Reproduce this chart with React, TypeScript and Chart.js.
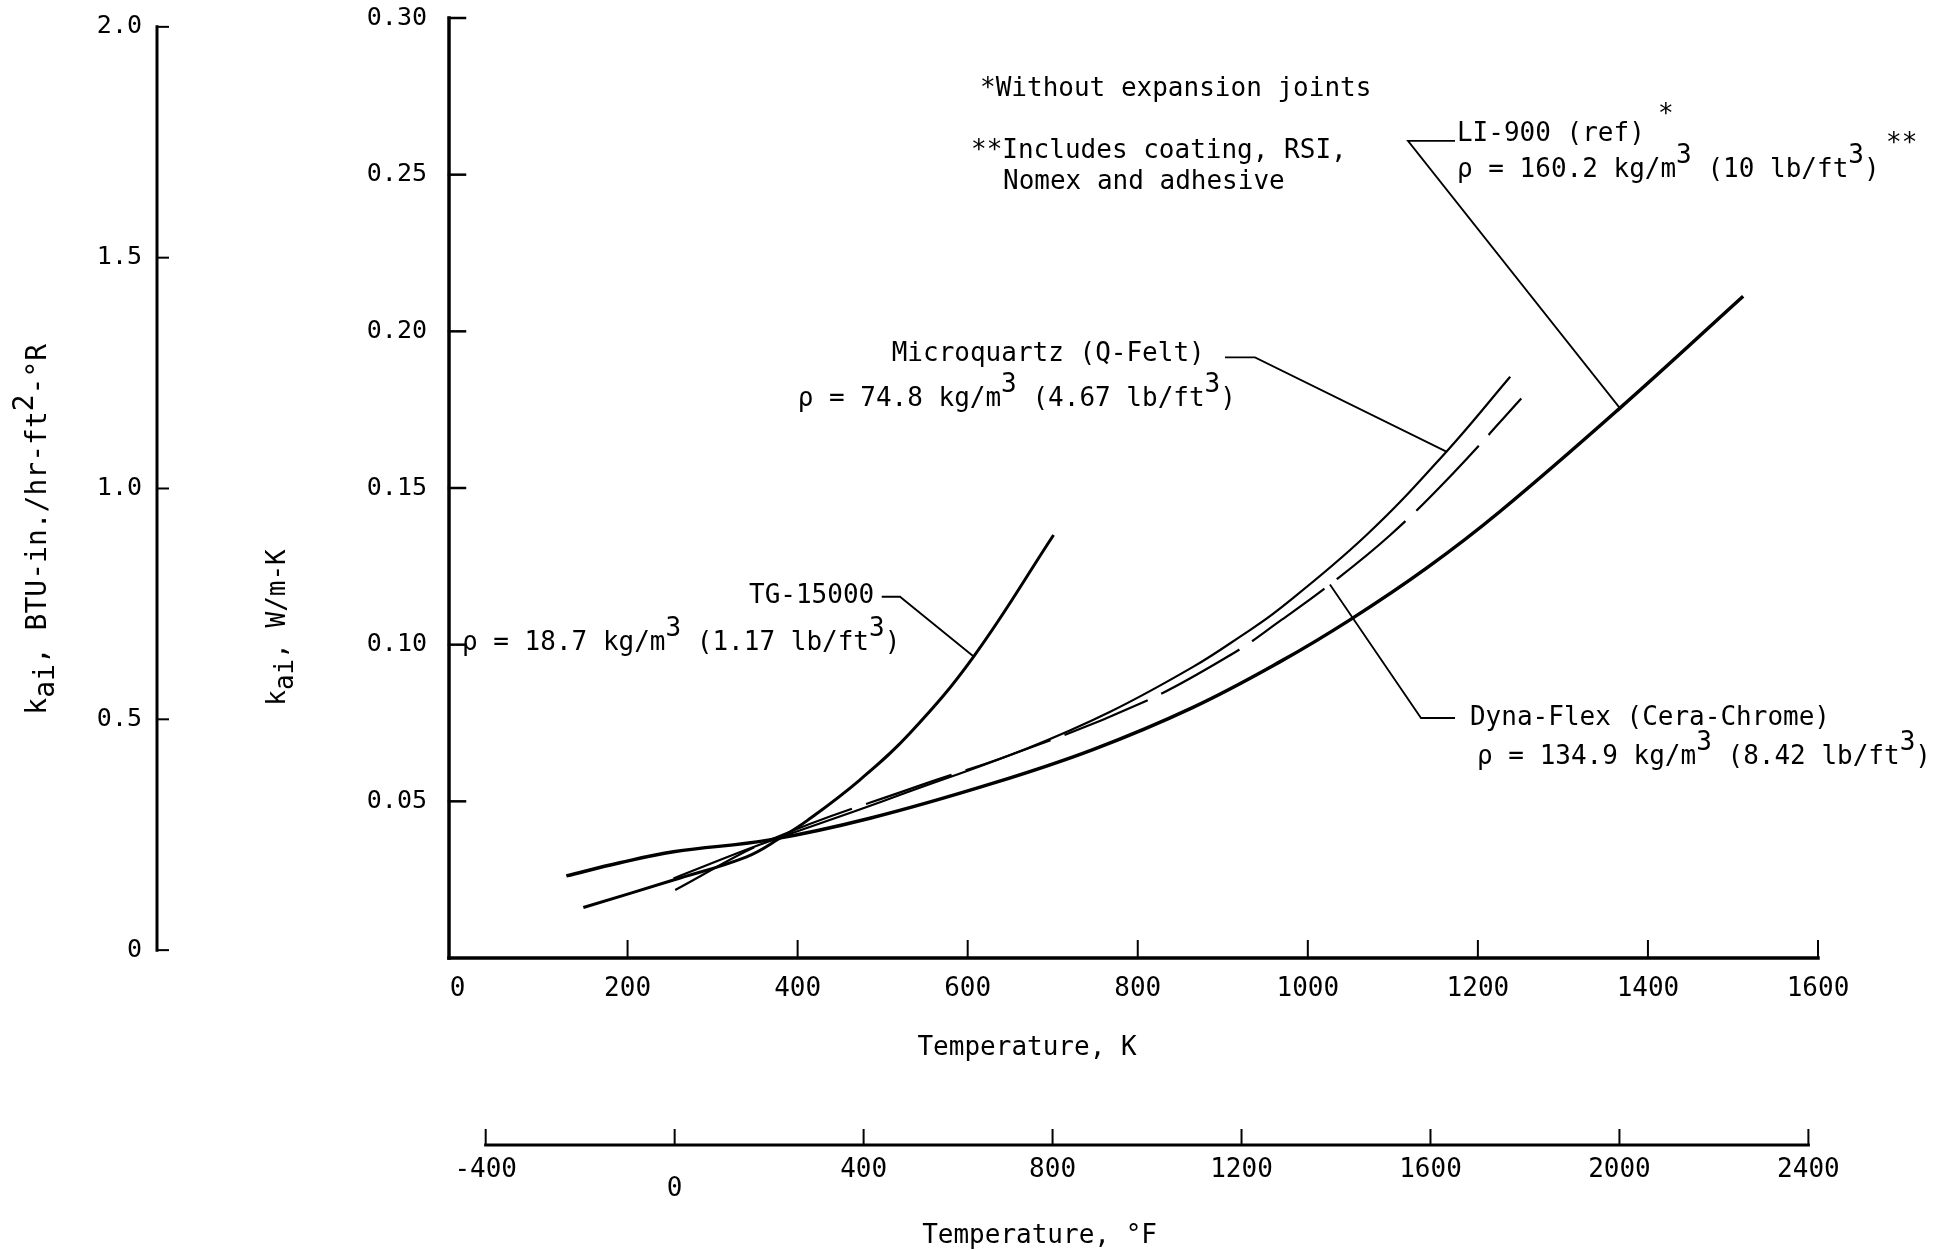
import { useEffect, useRef } from 'react';
import { Chart, registerables } from 'chart.js';

Chart.register(...registerables);

// ---------- tick values ----------
const kelvinTicks = [0, 200, 400, 600, 800, 1000, 1200, 1400, 1600];
const fahrenheitTicks = [-400, 0, 400, 800, 1200, 1600, 2000, 2400];
const siTicks = [0.05, 0.1, 0.15, 0.2, 0.25, 0.3];
const btuTicks = [0, 0.5, 1.0, 1.5, 2.0];

const kelvinMin = -10;
const kelvinMax = 1600;
const toF = (k: number) => k * 1.8 - 459.67;

// ---------- series (Temperature K, k_ai W/m-K) ----------
const li900Temp = [128, 191, 254, 367, 485, 630, 748, 865, 967, 1050, 1140, 1226, 1367, 1512];
const li900K = [0.0262, 0.0304, 0.0339, 0.0377, 0.0446, 0.0558, 0.0666, 0.08, 0.0945, 0.108, 0.1245, 0.1425, 0.1755, 0.2112];

const tgTemp = [148, 254, 340, 379, 412, 473, 532, 607, 701];
const tgK = [0.0161, 0.0249, 0.0323, 0.0382, 0.044, 0.0568, 0.0717, 0.0962, 0.135];

const mqTemp = [254, 356, 473, 524, 669, 767, 865, 920, 967, 1069, 1163, 1238];
const mqK = [0.0254, 0.0362, 0.0474, 0.0524, 0.0668, 0.0785, 0.0929, 0.1025, 0.1115, 0.135, 0.1616, 0.1855];

const dynaTemp = [256, 368, 540, 650, 803, 912, 967, 1026, 1097, 1171, 1251];
const dynaK = [0.0217, 0.0377, 0.0547, 0.0648, 0.0812, 0.0972, 0.1075, 0.1192, 0.135, 0.1547, 0.1786];

// ---------- annotations (in data units: K, W/m-K) ----------
type Part = [string, number];
const notes: { k: number; v: number; parts: Part[] }[] = [
  { k: 614.5, v: 0.2751, parts: [['*Without expansion joints', 0]] },
  { k: 603.9, v: 0.2553, parts: [['**Includes coating, RSI,', 0]] },
  { k: 641.5, v: 0.2454, parts: [['Nomex and adhesive', 0]] },
  { k: 1175.4, v: 0.2608, parts: [['LI-900 (ref)', 0]] },
  { k: 1411.9, v: 0.2668, parts: [['*', 0]] },
  { k: 1175.4, v: 0.2493, parts: [['ρ = 160.2 kg/m', 0], ['3', 14], [' (10 lb/ft', 0], ['3', 14], [')', 0]] },
  { k: 1680.0, v: 0.2575, parts: [['**', 0]] },
  { k: 510.6, v: 0.1905, parts: [['Microquartz (Q-Felt)', 0]] },
  { k: 400.0, v: 0.1762, parts: [['ρ = 74.8 kg/m', 0], ['3', 14], [' (4.67 lb/ft', 0], ['3', 14], [')', 0]] },
  { k: 342.8, v: 0.1134, parts: [['TG-15000', 0]] },
  { k: 5.3, v: 0.0983, parts: [['ρ = 18.7 kg/m', 0], ['3', 14], [' (1.17 lb/ft', 0], ['3', 14], [')', 0]] },
  { k: 1190.7, v: 0.0744, parts: [['Dyna-Flex (Cera-Chrome)', 0]] },
  { k: 1199.0, v: 0.0618, parts: [['ρ = 134.9 kg/m', 0], ['3', 14], [' (8.42 lb/ft', 0], ['3', 14], [')', 0]] },
];

const leaders: [number, number][][] = [
  [[1173.1, 0.2608], [1117.8, 0.2608], [1367, 0.1755]],
  [[902.6, 0.1917], [937.9, 0.1917], [1163, 0.1616]],
  [[498.9, 0.1153], [520.4, 0.1153], [607, 0.0962]],
  [[1026, 0.1192], [1133.1, 0.0766], [1173.1, 0.0766]],
];

const kelvinTitle = 'Temperature, K';
const fahrenheitTitle = 'Temperature, °F';
const btuTitle: Part[] = [['k', 0], ['ai', -8], [', BTU-in./hr-ft', 0], ['2', 13], ['-°R', 0]];
const siTitle: Part[] = [['k', 0], ['ai', -8], [', W/m-K', 0]];

const FONT = '"DejaVu Sans Mono", "Liberation Mono", monospace';

function drawParts(ctx: CanvasRenderingContext2D, x: number, y: number, parts: Part[]) {
  let cx = x;
  for (const [t, r] of parts) {
    ctx.fillText(t, cx, y - r);
    cx += ctx.measureText(t).width;
  }
}

function seg(ctx: CanvasRenderingContext2D, x1: number, y1: number, x2: number, y2: number, w: number) {
  ctx.lineWidth = w;
  ctx.beginPath();
  ctx.moveTo(x1, y1);
  ctx.lineTo(x2, y2);
  ctx.stroke();
}

const decor = {
  id: 'decor',
  afterDraw(chart: any) {
    const ctx: CanvasRenderingContext2D = chart.ctx;
    const x = chart.scales.x;
    const y = chart.scales.y;
    const xf = chart.scales.xF;
    const yb = chart.scales.yB;
    ctx.save();
    ctx.strokeStyle = '#000';
    ctx.fillStyle = '#000';
    ctx.lineCap = 'square';

    // main W/m-K axis
    const ax = chart.chartArea.left;
    const y0 = y.getPixelForValue(0);
    seg(ctx, ax, y0, ax, y.getPixelForValue(0.3), 3.5);
    siTicks.forEach((v) => seg(ctx, ax, y.getPixelForValue(v), ax + 16, y.getPixelForValue(v), 2.5));

    // Kelvin axis
    seg(ctx, ax, y0, x.getPixelForValue(kelvinMax), y0, 3.5);
    kelvinTicks.slice(1).forEach((t) => seg(ctx, x.getPixelForValue(t), y0, x.getPixelForValue(t), y0 - 17, 2));

    // BTU axis
    const bx = yb.right;
    seg(ctx, bx, yb.getPixelForValue(0), bx, yb.getPixelForValue(2), 3);
    btuTicks.forEach((v) => seg(ctx, bx, yb.getPixelForValue(v), bx + 11, yb.getPixelForValue(v), 2));

    // Fahrenheit axis
    const fy = xf.top;
    seg(ctx, xf.getPixelForValue(-400), fy, xf.getPixelForValue(2400), fy, 3);
    fahrenheitTicks.forEach((t) => seg(ctx, xf.getPixelForValue(t), fy, xf.getPixelForValue(t), fy - 15, 2));

    // leader lines
    ctx.lineCap = 'butt';
    ctx.lineWidth = 1.8;
    leaders.forEach((pts) => {
      ctx.beginPath();
      pts.forEach(([k, v], i) => {
        const px = x.getPixelForValue(k);
        const py = y.getPixelForValue(v);
        if (i === 0) ctx.moveTo(px, py);
        else ctx.lineTo(px, py);
      });
      ctx.stroke();
    });

    // annotation texts
    ctx.font = `26px ${FONT}`;
    ctx.textAlign = 'left';
    ctx.textBaseline = 'alphabetic';
    notes.forEach((n) => drawParts(ctx, x.getPixelForValue(n.k), y.getPixelForValue(n.v), n.parts));

    // axis titles
    const kw = ctx.measureText(kelvinTitle).width;
    ctx.fillText(kelvinTitle, x.getPixelForValue(669.8) - kw / 2, x.top + 97);
    const fw = ctx.measureText(fahrenheitTitle).width;
    ctx.fillText(fahrenheitTitle, xf.getPixelForValue(toF(684.5)) - fw / 2, xf.top + 98);

    // rotated titles
    ctx.save();
    ctx.font = `28px ${FONT}`;
    ctx.translate(yb.left + 46, yb.getPixelForValue(0.51));
    ctx.rotate(-Math.PI / 2);
    drawParts(ctx, 0, 0, btuTitle);
    ctx.restore();

    ctx.save();
    ctx.translate(y.left + 128, y.getPixelForValue(0.0805));
    ctx.rotate(-Math.PI / 2);
    drawParts(ctx, 0, 0, siTitle);
    ctx.restore();

    ctx.restore();
  },
};

const zeroPad = (s: any) => {
  s.paddingTop = 0;
  s.paddingBottom = 0;
  s.paddingLeft = 0;
  s.paddingRight = 0;
};

const series = (temps: number[], ks: number[]) => temps.map((t, i) => ({ x: t, y: ks[i] }));

const noGrid = { display: false, drawTicks: false, drawOnChartArea: false };

export default function App() {
  const ref = useRef<HTMLCanvasElement>(null);

  useEffect(() => {
    const canvas = ref.current;
    if (!canvas) return;
    const common = {
      borderColor: '#000',
      pointRadius: 0,
      fill: false,
      tension: 0.4,
      xAxisID: 'x',
      yAxisID: 'y',
    };
    const chart = new Chart(canvas, {
      type: 'line',
      data: {
        datasets: [
          { ...common, label: 'LI-900 (ref)', data: series(li900Temp, li900K), borderWidth: 3.5 },
          { ...common, label: 'TG-15000', data: series(tgTemp, tgK), borderWidth: 3 },
          { ...common, label: 'Microquartz (Q-Felt)', data: series(mqTemp, mqK), borderWidth: 2.2 },
          { ...common, label: 'Dyna-Flex (Cera-Chrome)', data: series(dynaTemp, dynaK), borderWidth: 2.2, borderDash: [90, 15] },
        ],
      },
      options: {
        animation: false,
        responsive: false,
        devicePixelRatio: 1,
        layout: { padding: { left: 0, right: 123, top: 18, bottom: 0 } },
        plugins: { legend: { display: false }, tooltip: { enabled: false } },
        scales: {
          x: {
            type: 'linear',
            position: 'bottom',
            weight: 0,
            min: kelvinMin,
            max: kelvinMax,
            grid: noGrid,
            border: { display: false },
            ticks: {
              font: { family: FONT, size: 26 },
              color: '#000',
              padding: 16,
              autoSkip: false,
              maxRotation: 0,
              minRotation: 0,
              callback: (v: any) => String(v),
            },
            afterBuildTicks: (s: any) => {
              s.ticks = kelvinTicks.map((value) => ({ value }));
            },
            afterFit: (s: any) => {
              s.height = 187;
              zeroPad(s);
            },
          },
          xF: {
            type: 'linear',
            position: 'bottom',
            weight: 1,
            min: toF(kelvinMin),
            max: toF(kelvinMax),
            grid: noGrid,
            border: { display: false },
            ticks: {
              font: { family: FONT, size: 26, lineHeight: '19px' },
              color: '#000',
              padding: 16,
              autoSkip: false,
              maxRotation: 0,
              minRotation: 0,
              callback: (v: any) => (Number(v) === 0 ? ['', '0'] : String(v)),
            },
            afterBuildTicks: (s: any) => {
              s.ticks = fahrenheitTicks.map((value) => ({ value }));
            },
            afterFit: (s: any) => {
              s.height = 105;
              zeroPad(s);
            },
          },
          y: {
            type: 'linear',
            position: 'left',
            weight: 0,
            min: 0,
            max: 0.3,
            grid: noGrid,
            border: { display: false },
            ticks: {
              font: { family: FONT, size: 25 },
              color: '#000',
              padding: 22,
              autoSkip: false,
              callback: (v: any) => Number(v).toFixed(2),
            },
            afterBuildTicks: (s: any) => {
              s.ticks = siTicks.map((value) => ({ value }));
            },
            afterFit: (s: any) => {
              s.width = 292;
              zeroPad(s);
            },
          },
          yB: {
            type: 'linear',
            position: 'left',
            weight: 1,
            min: -0.01704,
            max: 2.01917,
            grid: noGrid,
            border: { display: false },
            ticks: {
              font: { family: FONT, size: 25 },
              color: '#000',
              padding: 15,
              autoSkip: false,
              callback: (v: any) => (Number(v) === 0 ? '0' : Number(v).toFixed(1)),
            },
            afterBuildTicks: (s: any) => {
              s.ticks = btuTicks.map((value) => ({ value }));
            },
            afterFit: (s: any) => {
              s.width = 157;
              zeroPad(s);
            },
          },
        },
      } as any,
      plugins: [decor],
    });
    return () => chart.destroy();
  }, []);

  return (
    <div style={{ position: 'absolute', left: 0, top: 0, width: 1941, height: 1250, background: '#fff' }}>
      <canvas ref={ref} width={1941} height={1250} style={{ display: 'block' }} />
    </div>
  );
}
